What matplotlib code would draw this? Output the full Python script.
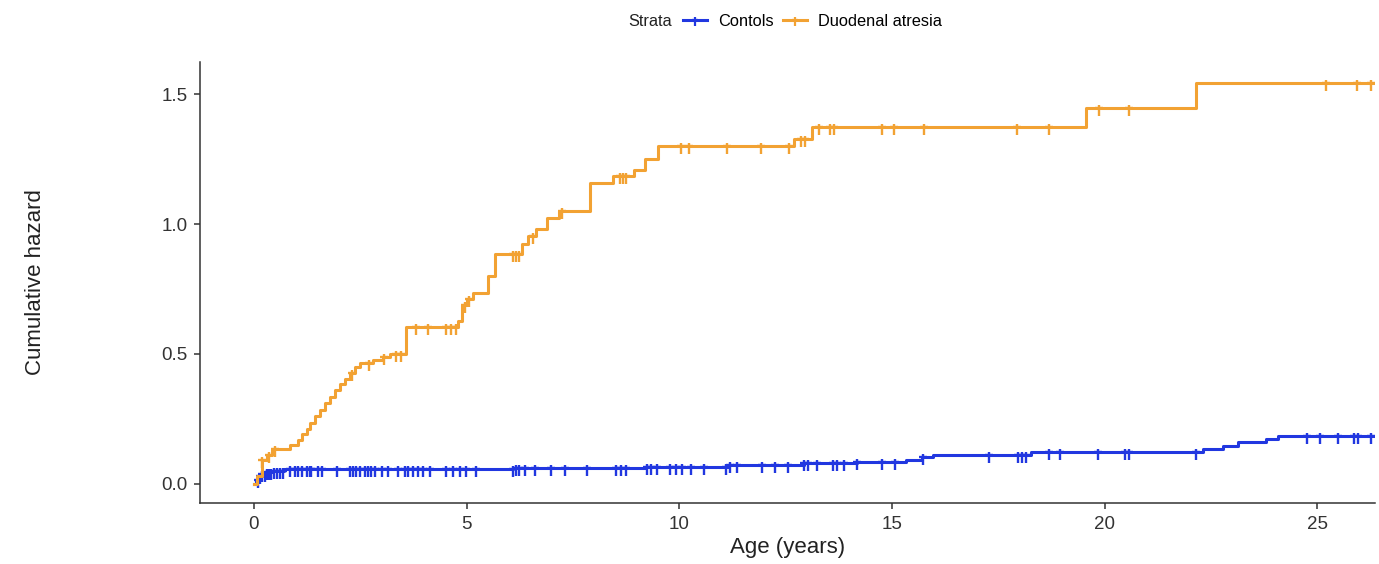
import numpy as np
import matplotlib.pyplot as plt
from matplotlib.lines import Line2D
from matplotlib.path import Path

plt.rcParams['font.family'] = ['Liberation Sans', 'DejaVu Sans']

# Nelson-Aalen step points (time in years, cumulative hazard)
da_time = [0, 0.07, 0.19, 0.3, 0.42, 0.85, 1.04, 1.12, 1.24, 1.31, 1.43, 1.55, 1.67, 1.78,
           1.9, 2.02, 2.14, 2.25, 2.37, 2.49, 2.79, 3.03, 3.19, 3.58, 4.8, 4.9, 5.0, 5.14,
           5.5, 5.66, 6.3, 6.45, 6.64, 6.9, 7.18, 7.9, 8.45, 8.94, 9.2, 9.5, 12.7, 13.12,
           19.55, 22.14]
da_haz = [0, 0.03, 0.09, 0.11, 0.135, 0.15, 0.17, 0.19, 0.21, 0.235, 0.26, 0.285, 0.31, 0.335,
          0.36, 0.385, 0.405, 0.425, 0.448, 0.464, 0.475, 0.487, 0.50, 0.605, 0.625, 0.69, 0.71, 0.733,
          0.80, 0.885, 0.923, 0.954, 0.98, 1.023, 1.05, 1.157, 1.184, 1.21, 1.25, 1.30, 1.33, 1.375,
          1.446, 1.545]
da_cens = [0.2, 0.35, 0.5, 2.3, 2.7, 3.05, 3.35, 3.45, 3.82, 4.08, 4.52, 4.64, 4.75, 4.95, 5.05,
           6.08, 6.16, 6.24, 6.55, 7.25, 8.6, 8.68, 8.75, 10.05, 10.23, 11.13, 11.92, 12.58, 12.85,
           12.95, 13.29, 13.55, 13.64, 14.77, 15.05, 15.75, 17.93, 18.69, 19.86, 20.56, 25.19,
           25.92, 26.27]

ct_time = [0, 0.05, 0.12, 0.2, 0.3, 0.45, 0.7, 1.2, 6.1, 9.2, 10.0, 11.15, 12.93, 14.18, 15.33,
           15.7, 15.96, 18.26, 22.3, 22.77, 23.14, 23.8, 24.08]
ct_haz = [0, 0.015, 0.028, 0.038, 0.045, 0.05, 0.055, 0.058, 0.061, 0.063, 0.066, 0.072, 0.078,
          0.085, 0.091, 0.104, 0.11, 0.123, 0.133, 0.146, 0.159, 0.172, 0.185]
ct_cens = [0.1, 0.15, 0.2, 0.25, 0.3, 0.35, 0.41, 0.47, 0.53, 0.6, 0.68, 0.85, 0.96, 1.04, 1.12,
           1.24, 1.31, 1.35, 1.5, 1.59, 1.94, 2.25, 2.33, 2.41, 2.49, 2.61, 2.68, 2.76, 2.84, 3.0,
           3.15, 3.38, 3.54, 3.62, 3.74, 3.85, 3.97, 4.13, 4.52, 4.68, 4.84, 4.99, 5.23, 6.09, 6.17,
           6.24, 6.36, 6.6, 6.99, 7.3, 7.84, 8.51, 8.63, 8.75, 9.25, 9.34, 9.48, 9.77, 9.92, 10.07,
           10.27, 10.58, 11.1, 11.2, 11.36, 11.94, 12.25, 12.56, 12.93, 13.03, 13.24, 13.61, 13.71,
           13.87, 14.18, 14.76, 15.07, 15.73, 17.27, 17.95, 18.05, 18.16, 18.69, 18.94, 19.84,
           20.47, 20.57, 22.14, 24.76, 25.07, 25.49, 25.85, 25.96, 26.27]

follow_up = 26.3
groups = ["Contols", "Duodenal atresia"]
colors = ["#2137E0", "#F2A233"]

# censor tick: short arm above, longer arm below
cens_mark = Path([(0, 0.45), (0, -1.0), (-0.55, 0), (0.55, 0)],
                 [Path.MOVETO, Path.LINETO, Path.MOVETO, Path.LINETO])

fig = plt.figure(figsize=(13.79, 5.64), dpi=100)
ax = fig.add_axes([0.145, 0.108, 0.852, 0.782])

for (t, h, c), col in zip([(ct_time, ct_haz, ct_cens), (da_time, da_haz, da_cens)], colors):
    tt = np.append(t, follow_up)
    hh = np.append(h, h[-1])
    ax.step(tt, hh, where='post', color=col, lw=2.2)
    idx = np.searchsorted(t, c, side='right') - 1
    ax.plot(c, np.array(h)[idx], ls='none', marker=cens_mark, color=col, ms=11, mew=1.7)

ax.set_xlim(-1.27, 26.35)
ax.set_ylim(-0.075, 1.625)
ax.set_xticks([0, 5, 10, 15, 20, 25])
ax.set_yticks([0.0, 0.5, 1.0, 1.5])
ax.set_yticklabels(["0.0", "0.5", "1.0", "1.5"])
for s in ['top', 'right']:
    ax.spines[s].set_visible(False)
for s in ['left', 'bottom']:
    ax.spines[s].set_color('#333333')
    ax.spines[s].set_linewidth(1.1)
ax.tick_params(colors='#333333', labelsize=13.5, length=4, width=1.1, pad=5)
ax.set_xlabel("Age (years)", fontsize=16, color='#222222', labelpad=3)
fig.text(0.026, 0.50, "Cumulative hazard", rotation=90, ha='center', va='center',
         fontsize=16, color='#222222')

# legend on top
fig.text(628 / 1379, 1 - 21 / 564, "Strata", ha='left', va='center', fontsize=11.8, color='#222222')
handles = [Line2D([], [], color=col, lw=2.2, marker=cens_mark, ms=9, mew=1.6) for col in colors]
fig.legend(handles, groups, loc='center left', bbox_to_anchor=(683 / 1379, 1 - 21 / 564),
           ncol=2, frameon=False, fontsize=11.8, handlelength=1.46, handletextpad=0.67,
           columnspacing=0.6, borderaxespad=0, borderpad=0)

fig.savefig("out.png", dpi=100)
